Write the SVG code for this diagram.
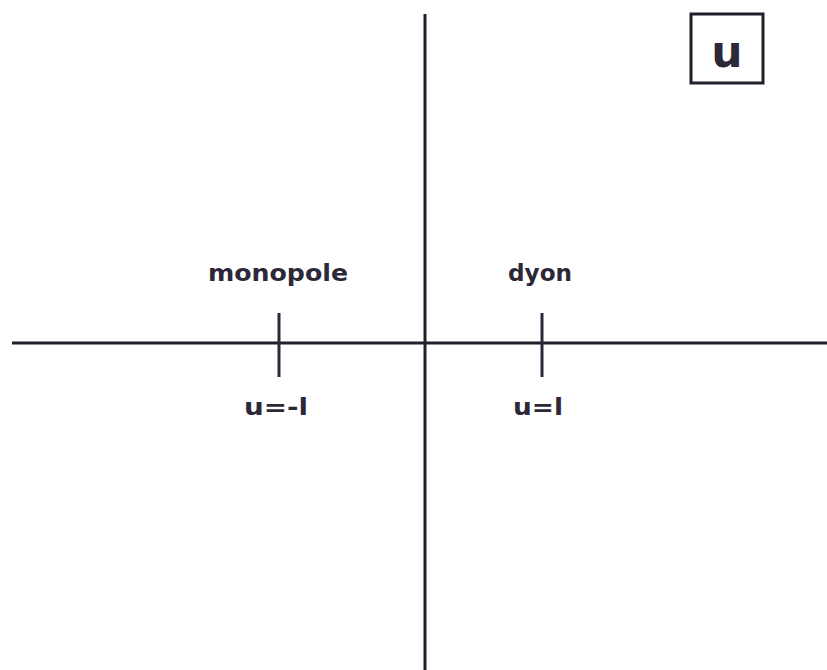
<svg xmlns="http://www.w3.org/2000/svg" width="827" height="670" viewBox="0 0 827 670">
<style>
.ax{stroke:#221e2c;stroke-width:3;fill:none}
.tk{stroke:#2c2838;stroke-width:3;fill:none}
.lb{font-family:"DejaVu Sans",sans-serif;font-size:23px;font-weight:bold;fill:#2c2838;text-anchor:middle}
</style>
<rect width="827" height="670" fill="#ffffff"/>
<g id="connectors">
<line class="ax" x1="425" y1="14" x2="425" y2="670"/>
<line class="ax" x1="12" y1="343" x2="827" y2="343"/>
</g>
<g id="monopole">
<line class="tk" x1="279" y1="313" x2="279" y2="377"/>
<text class="lb" x="278" y="281" textLength="140" lengthAdjust="spacingAndGlyphs">monopole</text>
<text class="lb" x="276" y="415" textLength="64" lengthAdjust="spacingAndGlyphs">u=-l</text>
</g>
<g id="dyon">
<line class="tk" x1="542" y1="313" x2="542" y2="377"/>
<text class="lb" x="540" y="281" textLength="64" lengthAdjust="spacingAndGlyphs">dyon</text>
<text class="lb" x="538" y="415" textLength="50" lengthAdjust="spacingAndGlyphs">u=l</text>
</g>
<g id="ubox">
<rect x="691" y="14" width="72" height="69" fill="#ffffff" stroke="#221e2c" stroke-width="3"/>
<text x="727" y="67" font-family="DejaVu Sans,sans-serif" font-size="44" font-weight="bold" fill="#2c2838" text-anchor="middle">u</text>
</g>
</svg>
